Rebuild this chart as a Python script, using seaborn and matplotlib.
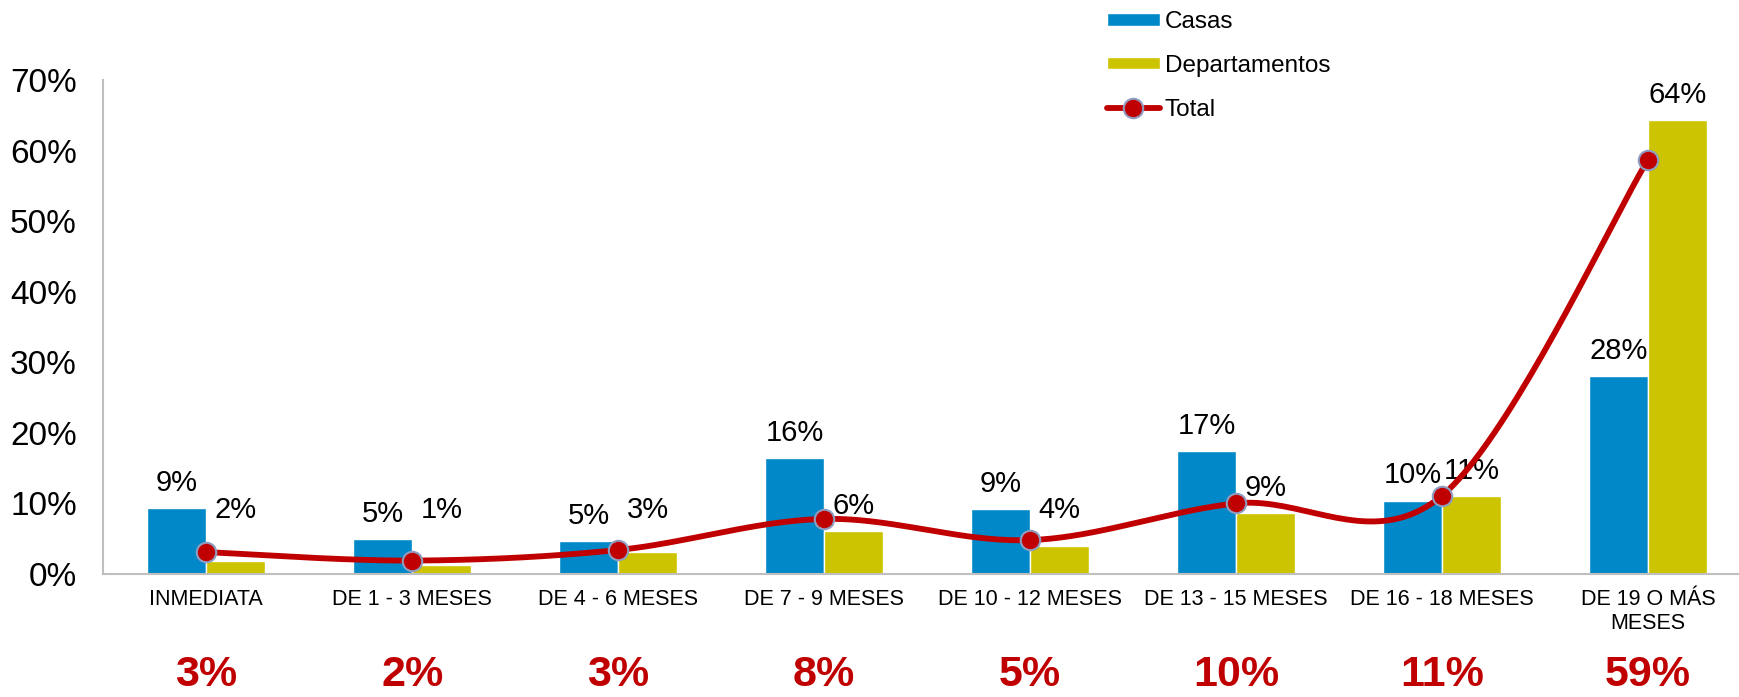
import matplotlib
matplotlib.use("Agg")
import matplotlib.pyplot as plt
from matplotlib.lines import Line2D
from matplotlib.transforms import blended_transform_factory
import seaborn as sns
import pandas as pd
import numpy as np

# Datos
categorias = ["INMEDIATA", "DE 1 - 3 MESES", "DE 4 - 6 MESES", "DE 7 - 9 MESES",
              "DE 10 - 12 MESES", "DE 13 - 15 MESES", "DE 16 - 18 MESES",
              "DE 19 O MÁS\nMESES"]
casas = [9.3, 5.0, 4.7, 16.4, 9.2, 17.4, 10.4, 28.0]
departamentos = [1.9, 1.3, 3.1, 6.1, 3.9, 8.6, 11.1, 64.3]
total = [3.1, 1.9, 3.4, 7.8, 4.8, 10.0, 11.1, 58.7]
y_ticks = [0, 10, 20, 30, 40, 50, 60, 70]

df = pd.DataFrame({
    "Plazo": categorias * 2,
    "Valor": casas + departamentos,
    "Tipo": ["Casas"] * len(categorias) + ["Departamentos"] * len(categorias),
})

sns.set_style("white")
plt.rcParams["font.family"] = ["Liberation Sans", "DejaVu Sans"]
plt.rcParams["text.color"] = "black"
plt.rcParams["xtick.color"] = "black"
plt.rcParams["ytick.color"] = "black"

colores = {"Casas": "#0088C8", "Departamentos": "#CCC400"}
rojo = "#C00000"

fig = plt.figure(figsize=(17.4, 6.97), dpi=100)
ax = fig.add_axes([0.0593, 0.1765, 0.947, 0.7088])

sns.barplot(data=df, x="Plazo", y="Valor", hue="Tipo", order=categorias,
            palette=colores, width=0.57, gap=0, saturation=1, ax=ax)

# Curva suavizada (estilo Excel, Bezier tipo Catmull-Rom) para el total
def curva_suave(xs, ys, n=40):
    xs = np.asarray(xs, float)
    ys = np.asarray(ys, float)
    px = np.concatenate([[xs[0]], xs, [xs[-1]]])
    py = np.concatenate([[ys[0]], ys, [ys[-1]]])
    out_x, out_y = [], []
    t = np.linspace(0, 1, n)
    for i in range(1, len(px) - 2):
        p0 = np.array([px[i], py[i]])
        p3 = np.array([px[i + 1], py[i + 1]])
        c1 = p0 + (p3 - np.array([px[i - 1], py[i - 1]])) / 6
        c2 = p3 - (np.array([px[i + 2], py[i + 2]]) - p0) / 6
        b = ((1 - t) ** 3)[:, None] * p0 + (3 * (1 - t) ** 2 * t)[:, None] * c1 \
            + (3 * (1 - t) * t ** 2)[:, None] * c2 + (t ** 3)[:, None] * p3
        out_x.extend(b[:, 0])
        out_y.extend(b[:, 1])
    return out_x, out_y

pos = np.arange(len(categorias))
cx, cy = curva_suave(pos, total)
ax.plot(cx, cy, color=rojo, lw=4.2, zorder=5, solid_capstyle="round")
ax.plot(pos, total, linestyle="none", marker="o", markersize=14,
        markerfacecolor=rojo, markeredgecolor="#8E9CC0", markeredgewidth=1.5,
        zorder=6)

# Etiquetas de las barras
for bar, v in zip(ax.containers[0], casas):
    ax.annotate(f"{v:.0f}%", (bar.get_x() + bar.get_width() / 2, bar.get_height()),
                xytext=(0, 8), textcoords="offset points",
                ha="center", va="bottom", fontsize=21)
for bar, v in zip(ax.containers[1], departamentos):
    ax.annotate(f"{v:.0f}%", (bar.get_x() + bar.get_width() / 2, max(bar.get_height(), 5.5)),
                xytext=(0, 8), textcoords="offset points",
                ha="center", va="bottom", fontsize=21)

# Totales en rojo debajo de cada categoría
trans = blended_transform_factory(ax.transData, fig.transFigure)
for i, v in enumerate(total):
    ax.text(i, 0.031, f"{v:.0f}%", transform=trans, ha="center", va="center",
            fontsize=31, fontweight="bold", color=rojo)

ax.set_xlim(-0.5, 7.5)
ax.set_ylim(0, 70)
ax.set_yticks(y_ticks)
ax.set_yticklabels([f"{t}%" for t in y_ticks], fontsize=24)
ax.tick_params(axis="y", length=0, pad=19)
ax.tick_params(axis="x", length=0, pad=11, labelsize=15.5)
ax.set_xlabel("")
ax.set_ylabel("")
for s in ["top", "right"]:
    ax.spines[s].set_visible(False)
for s in ["left", "bottom"]:
    ax.spines[s].set_color("#BFBFBF")
    ax.spines[s].set_linewidth(1.5)

# Leyenda
handles, labels = ax.get_legend_handles_labels()
ax.legend_.remove()
linea = Line2D([], [], color=rojo, lw=4.2, marker="o", markersize=14,
               markerfacecolor=rojo, markeredgecolor="#8E9CC0", markeredgewidth=1.5)
fig.legend(handles + [linea], labels + ["Total"], loc="upper left",
           bbox_to_anchor=(0.636, 0.984), frameon=False, fontsize=17.5,
           handlelength=2.2, handleheight=0.4, handletextpad=0.2,
           labelspacing=0.9, borderpad=0, borderaxespad=0)

fig.savefig("out.png", dpi=100)
